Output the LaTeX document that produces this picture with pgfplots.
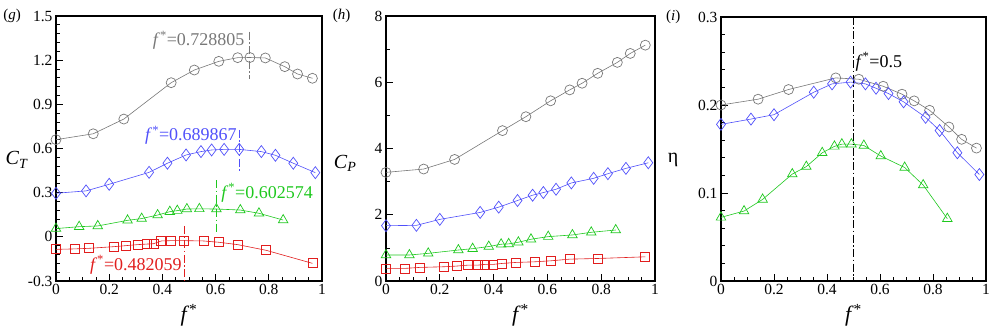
\documentclass[border=0pt]{standalone}
\usepackage{fontspec}
\setmainfont{Liberation Serif}
\usepackage{pgfplots}
\pgfplotsset{compat=1.18}

\definecolor{cgray}{RGB}{120,120,120}
\definecolor{cblue}{RGB}{80,80,250}
\definecolor{cgreen}{RGB}{30,200,30}
\definecolor{cred}{RGB}{225,30,30}

\newcommand{\fs}{\textit{f}\textsuperscript{*}}

\tikzset{ann/.style={font=\fontsize{18}{18}\selectfont, inner sep=1pt}}

\pgfplotsset{
  panel/.style={
    scale only axis,
    height=265pt,
    xmin=0, xmax=1,
    clip=false,
    tick pos=left,
    tick align=inside,
    axis line style={line width=1.1pt},
    tick style={black, line width=0.7pt},
    major tick length=7pt,
    minor tick length=4pt,
    xtick={0,0.2,0.4,0.6,0.8,1},
    xticklabels={0,0.2,0.4,0.6,0.8,1},
    minor x tick num=3,
    /pgf/number format/assume math mode=true,
    tick label style={font=\fontsize{15.5}{15.5}\selectfont},
    xticklabel style={yshift=0pt},
    xlabel={\fs},
    every axis x label/.style={at={(axis description cs:0.5,-0.13)}, anchor=center,
      font=\fontsize{22}{22}\selectfont},
    every axis y label/.style={anchor=center, font=\fontsize{20}{20}\selectfont},
  },
  sg/.style={cgray, line width=0.6pt, mark=o, mark size=5pt, mark options={solid, line width=0.7pt}},
  sb/.style={cblue, line width=0.6pt, mark=diamond, mark size=6pt, mark options={solid, line width=0.7pt}},
  sgr/.style={cgreen, line width=0.6pt, mark=triangle, mark size=5.5pt, mark options={solid, line width=0.7pt}},
  sr/.style={cred, line width=0.6pt, mark=square, mark size=4.5pt, mark options={solid, line width=0.7pt}},
  vl/.style={line width=1pt, dash pattern=on 8pt off 2.5pt on 1.5pt off 2.5pt, forget plot},
}

\begin{document}
\begin{tikzpicture}
\useasboundingbox (0,0) rectangle (997pt,332pt);

% ---------- (g) thrust coefficient
\begin{axis}[panel, at={(56pt,51pt)}, width=266pt,
    ymin=-0.3, ymax=1.5,
    ytick={-0.3,0,0.3,0.6,0.9,1.2,1.5},
    yticklabels={-0.3,0,0.3,0.6,0.9,1.2,1.5},
    minor y tick num=4,
    ylabel={\textit{C}\textsubscript{\textit{T}}},
    every axis y label/.append style={at={(axis description cs:-0.147,0.457)}},
]
\addplot[sg] coordinates {(0,0.66) (0.14,0.70) (0.255,0.80) (0.433,1.047) (0.52,1.133) (0.612,1.192) (0.683,1.217) (0.729,1.218) (0.787,1.215) (0.86,1.156) (0.908,1.106) (0.964,1.077)};
\addplot[sb] coordinates {(0,0.296) (0.113,0.312) (0.2,0.357) (0.35,0.438) (0.419,0.50) (0.489,0.556) (0.545,0.579) (0.585,0.59) (0.632,0.594) (0.689,0.594) (0.772,0.579) (0.825,0.554) (0.892,0.50) (0.975,0.436)};
\addplot[sgr] coordinates {(0,0.056) (0.087,0.069) (0.157,0.074) (0.269,0.112) (0.322,0.124) (0.382,0.148) (0.428,0.171) (0.456,0.178) (0.492,0.189) (0.539,0.19) (0.603,0.189) (0.693,0.182) (0.763,0.16) (0.854,0.114)};
\addplot[sr] coordinates {(0,-0.085) (0.07,-0.082) (0.125,-0.078) (0.216,-0.067) (0.262,-0.06) (0.306,-0.053) (0.343,-0.049) (0.366,-0.047) (0.396,-0.028) (0.432,-0.026) (0.482,-0.026) (0.554,-0.028) (0.613,-0.037) (0.683,-0.053) (0.789,-0.091) (0.964,-0.18)};
\addplot[vl, cgray] coordinates {(0.728805,1.394) (0.728805,1.07)};
\addplot[vl, cblue] coordinates {(0.689867,0.726) (0.689867,0.431)};
\addplot[vl, cgreen] coordinates {(0.602574,0.386) (0.602574,0.024)};
\addplot[vl, cred] coordinates {(0.482059,0.074) (0.482059,-0.3)};
\node[ann, text=cgray, anchor=east] at (axis cs:0.713,1.337) {\fs=0.728805};
\node[ann, text=cblue, anchor=east] at (axis cs:0.684,0.692) {\fs=0.689867};
\node[ann, text=cgreen, anchor=west] at (axis cs:0.617,0.30) {\fs=0.602574};
\node[ann, text=cred, anchor=east] at (axis cs:0.477,-0.19) {\fs=0.482059};
\node[font=\fontsize{15}{15}\selectfont] at (axis description cs:-0.165,1.0) {(\textit{g})};
\end{axis}

% ---------- (h) power coefficient
\begin{axis}[panel, at={(386pt,51pt)}, width=269pt,
    ymin=0, ymax=8,
    ytick={0,2,4,6,8},
    minor y tick num=1,
    ylabel={\textit{C}\textsubscript{\textit{P}}},
    every axis y label/.append style={at={(axis description cs:-0.152,0.445)}},
]
\addplot[sg] coordinates {(0,3.28) (0.14,3.38) (0.255,3.67) (0.433,4.54) (0.52,4.96) (0.612,5.44) (0.683,5.77) (0.729,5.97) (0.787,6.27) (0.86,6.60) (0.908,6.87) (0.964,7.12)};
\addplot[sb] coordinates {(0,1.67) (0.113,1.68) (0.2,1.86) (0.35,2.07) (0.419,2.23) (0.489,2.43) (0.545,2.59) (0.585,2.67) (0.632,2.77) (0.689,2.96) (0.772,3.10) (0.825,3.24) (0.892,3.40) (0.975,3.57)};
\addplot[sgr] coordinates {(0,0.785) (0.087,0.785) (0.157,0.835) (0.269,0.935) (0.322,0.976) (0.382,1.04) (0.428,1.11) (0.456,1.12) (0.492,1.17) (0.539,1.26) (0.603,1.34) (0.693,1.39) (0.763,1.47) (0.854,1.54)};
\addplot[sr] coordinates {(0,0.38) (0.07,0.38) (0.125,0.41) (0.216,0.43) (0.262,0.45) (0.306,0.48) (0.343,0.48) (0.366,0.50) (0.396,0.50) (0.432,0.53) (0.482,0.56) (0.554,0.58) (0.613,0.61) (0.683,0.66) (0.789,0.68) (0.964,0.73)};
\node[font=\fontsize{15}{15}\selectfont] at (axis description cs:-0.165,1.0) {(\textit{h})};
\end{axis}

% ---------- (i) efficiency
\begin{axis}[panel, at={(721pt,51pt)}, width=265pt, height=264pt,
    ymin=0, ymax=0.3,
    ytick={0,0.1,0.2,0.3},
    yticklabels={0,0.1,0.2,0.3},
    minor y tick num=4,
    ylabel={η},
    every axis y label/.append style={at={(axis description cs:-0.181,0.457)}},
]
\addplot[sg] coordinates {(0,0.200) (0.14,0.2066) (0.255,0.2176) (0.433,0.2308) (0.52,0.2293) (0.612,0.2213) (0.683,0.2123) (0.729,0.2047) (0.787,0.194) (0.86,0.175) (0.908,0.161) (0.964,0.151)};
\addplot[sb] coordinates {(0,0.178) (0.113,0.184) (0.2,0.189) (0.35,0.2145) (0.419,0.224) (0.489,0.226) (0.545,0.224) (0.585,0.219) (0.632,0.213) (0.689,0.2036) (0.772,0.186) (0.825,0.171) (0.892,0.1457) (0.975,0.121)};
\addplot[sgr] coordinates {(0,0.0723) (0.087,0.0795) (0.157,0.0927) (0.269,0.1215) (0.322,0.130) (0.382,0.1457) (0.428,0.153) (0.456,0.1555) (0.492,0.1555) (0.539,0.154) (0.603,0.142) (0.693,0.129) (0.763,0.109) (0.854,0.0708)};
\addplot[vl, black] coordinates {(0.5,0.3) (0.5,0)};
\node[ann, text=black, anchor=west] at (axis cs:0.503,0.249) {\fs=0.5};
\node[font=\fontsize{15}{15}\selectfont] at (axis description cs:-0.18,1.0) {(\textit{i})};
\end{axis}
\end{tikzpicture}
\end{document}
